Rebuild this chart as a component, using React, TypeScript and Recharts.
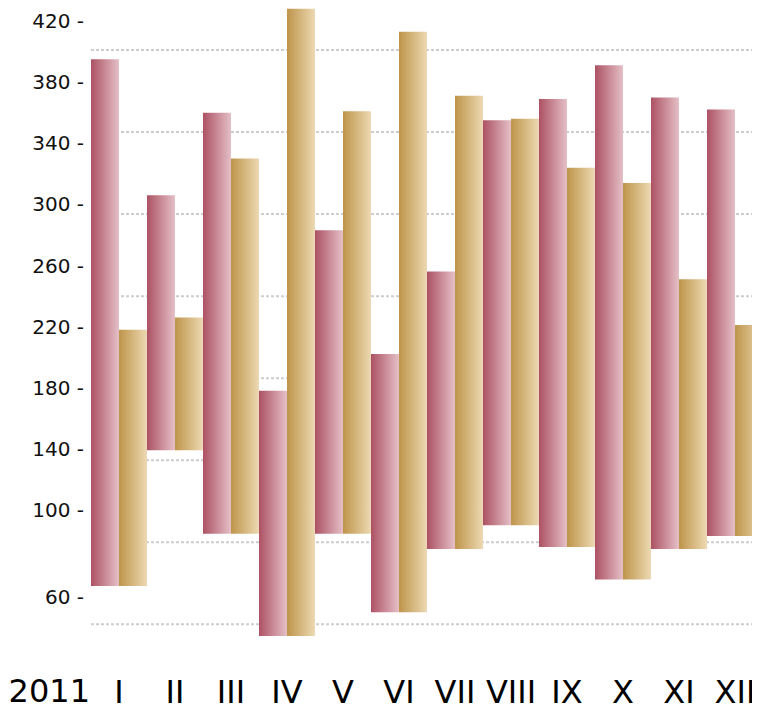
import React from 'react';
import { BarChart, Bar, XAxis, YAxis, CartesianGrid } from 'recharts';

const months = ['I', 'II', 'III', 'IV', 'V', 'VI', 'VII', 'VIII', 'IX', 'X', 'XI', 'XII'];
const lows = [65, 139, 89, 42, 89, 53, 82, 93, 83, 68, 82, 88];
const pinkHighs = [395, 306, 360, 178, 283, 202, 256, 355, 369, 391, 370, 362];
const goldHighs = [218, 226, 330, 428, 361, 413, 371, 356, 324, 314, 251, 221];
const yTicks = [60, 100, 140, 180, 220, 260, 300, 340, 380, 420];
const gridTicks = [1, 2, 3, 4, 5, 6, 7, 8];

const data = months.map((month, i) => ({
  month,
  pink: [lows[i], pinkHighs[i]],
  gold: [lows[i], goldHighs[i]],
}));

// the value axis is stretched below 100 (60 -> 100 takes more room than 100 -> 140)
const K = 2.175 / 1.5281;
const bend = (v: number) => (v >= 100 ? v : 100 - (100 - v) * K);

function stretchedScale() {
  let dom = [0, 1];
  let rng = [0, 1];
  const s: any = (v: number) => {
    const t = (bend(v) - bend(dom[0])) / (bend(dom[1]) - bend(dom[0]));
    return rng[0] + t * (rng[1] - rng[0]);
  };
  s.domain = (d?: number[]) => {
    if (d === undefined) return dom.slice();
    dom = Array.from(d).map(Number);
    return s;
  };
  s.range = (r?: number[]) => {
    if (r === undefined) return rng.slice();
    rng = Array.from(r).map(Number);
    return s;
  };
  s.invert = (px: number) => {
    const t = (px - rng[0]) / (rng[1] - rng[0]);
    const b = bend(dom[0]) + t * (bend(dom[1]) - bend(dom[0]));
    return b >= 100 ? b : 100 - (100 - b) / K;
  };
  s.ticks = () => yTicks;
  s.copy = () => stretchedScale().domain(dom).range(rng);
  return s;
}

export default function App() {
  return (
    <div style={{ width: 752, height: 700, overflow: 'hidden', fontFamily: 'DejaVu Sans' }}>
      <BarChart
        width={755}
        height={713}
        data={data}
        margin={{ top: 0, right: 0, bottom: 0, left: 0 }}
        barCategoryGap={0}
        barGap={0}
      >
        <defs>
          <linearGradient id="pinkFill" x1="0" y1="0" x2="1" y2="0">
            <stop offset="0%" stopColor="#ad5163" />
            <stop offset="100%" stopColor="#e4c0c7" />
          </linearGradient>
          <linearGradient id="goldFill" x1="0" y1="0" x2="1" y2="0">
            <stop offset="0%" stopColor="#bf944b" />
            <stop offset="100%" stopColor="#ecd9b3" />
          </linearGradient>
        </defs>
        <CartesianGrid
          yAxisId="grid"
          vertical={false}
          syncWithTicks
          stroke="#cdcdcd"
          strokeWidth={2}
          strokeDasharray="3 2"
        />
        <XAxis
          dataKey="month"
          height={61}
          tickLine={false}
          axisLine={false}
          tickSize={18}
          tickMargin={2}
          tick={{ fontSize: 32, fill: '#000' }}
          label={{ value: '2011', position: 'left', offset: 1, fontSize: 32, fill: '#000' }}
        />
        <YAxis
          width={83}
          scale={stretchedScale()}
          type="number"
          domain={[31, 428.5]}
          ticks={yTicks}
          interval={0}
          tickLine={false}
          axisLine={false}
          tickSize={6}
          tickMargin={1}
          tickFormatter={(v: number) => `${v} -`}
          tick={{ fontSize: 20, fill: '#111' }}
        />
        <YAxis
          yAxisId="grid"
          orientation="right"
          hide
          type="number"
          domain={[0.565, 8.512]}
          ticks={gridTicks}
          allowDataOverflow
        />
        <Bar dataKey="pink" fill="url(#pinkFill)" isAnimationActive={false} />
        <Bar dataKey="gold" fill="url(#goldFill)" isAnimationActive={false} />
      </BarChart>
    </div>
  );
}
